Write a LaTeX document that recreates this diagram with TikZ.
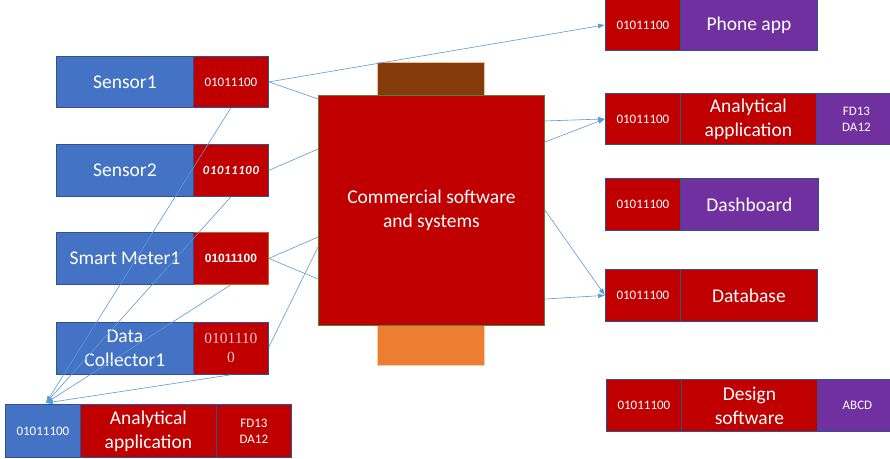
\documentclass[tikz,border=0pt]{standalone}
\usepackage{fontspec}
\setmainfont{Carlito}
\newfontfamily\libsans{Liberation Sans}
\newfontfamily\libserif{Liberation Serif}
\usetikzlibrary{arrows.meta}
\definecolor{cblue}{HTML}{4472C4}
\definecolor{cblueb}{HTML}{2F528F}
\definecolor{cred}{HTML}{C00000}
\definecolor{cpurple}{HTML}{7030A0}
\definecolor{cbrown}{HTML}{843C0C}
\definecolor{corange}{HTML}{ED7D31}
\definecolor{cline}{HTML}{5B9BD5}
\definecolor{cgreen}{HTML}{548235}
\definecolor{cpink}{HTML}{F2C4C4}
\tikzset{
  box/.style={anchor=north west, inner sep=0pt, align=center, text=white, draw=cblueb, line width=0.8pt},
  bluebox/.style={box, fill=cblue},
  redbox/.style={box, fill=cred},
  purplebox/.style={box, fill=cpurple},
  big/.style={font=\fontsize{19.5}{24}\selectfont},
  small/.style={font=\fontsize{13}{16}\selectfont},
  conn/.style={draw=cline, line width=0.6pt},
  arr/.style={conn, -{Latex[length=7pt,width=5pt]}},
}
\begin{document}
\begin{tikzpicture}[x=1pt,y=-1pt]
\clip (0,0) rectangle (890,458);
\fill[white] (0,0) rectangle (890,458);
% left sensors
\node[bluebox, big, minimum width=137pt, minimum height=51pt] (s1) at (56,56) {Sensor1};
\node[redbox, small, minimum width=75pt, minimum height=51pt] (s1r) at (193,56) {01011100};
\node[bluebox, big, minimum width=137pt, minimum height=52pt] (s2) at (56,144) {Sensor2};
\node[redbox, font=\fontsize{12.5}{14}\selectfont\bfseries\itshape\addfontfeature{LetterSpace=6}, minimum width=75pt, minimum height=52pt] (s2r) at (193,144) {01011100};
\node[redbox, draw=corange!80!black, font=\libsans\fontsize{12}{14}\selectfont\bfseries, minimum width=75pt, minimum height=52pt] (s3r) at (193,232) {01011100};
\node[bluebox, big, minimum width=137pt, minimum height=52pt] (s3) at (56,232) {Smart Meter1};
\node[bluebox, big, minimum width=137pt, minimum height=52pt] (s4) at (56,322) {Data\\Collector1};
\node[redbox, text=cpink, font=\libserif\fontsize{15.5}{19}\selectfont, minimum width=75pt, minimum height=52pt] (s4r) at (193,322) {0101110\\0};
% bottom analytical app
\node[bluebox, small, minimum width=75pt, minimum height=53pt] (ba1) at (5,404) {01011100};
\node[redbox, big, minimum width=136pt, minimum height=53pt] (ba2) at (80,404) {Analytical\\application};
\node[redbox, small, minimum width=75pt, minimum height=53pt] (ba3) at (216,404) {FD13\\DA12};
% center
\node[anchor=north west, inner sep=0pt, fill=cbrown, draw=corange!50, line width=0.8pt, minimum width=107pt, minimum height=34pt] (top) at (377,62) {};
\node[anchor=north west, inner sep=0pt, fill=corange, draw=corange!40, line width=0.8pt, minimum width=107pt, minimum height=40pt] (bot) at (377,325) {};
\node[anchor=north west, inner sep=0pt, fill=cred, draw=cgreen, line width=0.8pt, text=white, align=center, big, minimum width=226pt, minimum height=230pt] (c) at (318,95) {Commercial software\\and systems};
% right blocks
\node[redbox, small, minimum width=75pt, minimum height=51pt] (p1) at (605,-1) {01011100};
\node[purplebox, big, minimum width=137pt, minimum height=51pt] (p2) at (680,-1) {Phone app};
\node[redbox, small, minimum width=75pt, minimum height=51pt] (a1) at (605,93) {01011100};
\node[redbox, big, minimum width=136pt, minimum height=51pt] (a2) at (680,93) {Analytical\\application};
\node[purplebox, small, minimum width=80pt, minimum height=51pt] (a3) at (816,93) {FD13\\DA12};
\node[redbox, small, minimum width=75pt, minimum height=52pt] (d1) at (605,178) {01011100};
\node[purplebox, big, minimum width=138pt, minimum height=52pt] (d2) at (680,178) {Dashboard};
\node[redbox, small, minimum width=75pt, minimum height=52pt] (db1) at (605,269) {01011100};
\node[redbox, big, minimum width=137pt, minimum height=52pt] (db2) at (680,269) {Database};
\node[redbox, small, minimum width=75pt, minimum height=52pt] (g1) at (606,379) {01011100};
\node[redbox, big, minimum width=136pt, minimum height=52pt] (g2) at (681,379) {Design\\software};
\node[purplebox, small, minimum width=80pt, minimum height=52pt] (g3) at (817,379) {ABCD};
% connectors
\draw[arr] (s1r.east) -- (p1.west);
\draw[conn] (s1r.east) -- ([yshift=-4pt]c.north west);
\draw[conn] (s2r.east) -- ([yshift=-54pt]c.north west);
\draw[conn] (s3r.east) -- ([yshift=-142pt]c.north west);
\draw[conn] (s3r.east) -- ([yshift=-184pt]c.north west);
\draw[conn] ([yshift=-25pt]s4r.north east) -- ([yshift=-152pt]c.north west);
\draw[arr] ([yshift=-26pt]c.north east) -- (a1.west);
\draw[arr] ([yshift=-47pt]c.north east) -- (a1.west);
\draw[arr] ([yshift=-115pt]c.north east) -- (db1.west);
\draw[arr] ([yshift=-204pt]c.north east) -- (db1.west);
\coordinate (tgt) at ([xshift=3pt,yshift=1pt]ba1.north);
\draw[arr] (s1r.south) -- (tgt);
\draw[arr] (s2r.south) -- (tgt);
\draw[arr] (s3r.south) -- (tgt);
\draw[arr] (s4r.south) -- (tgt);
\end{tikzpicture}
\end{document}
